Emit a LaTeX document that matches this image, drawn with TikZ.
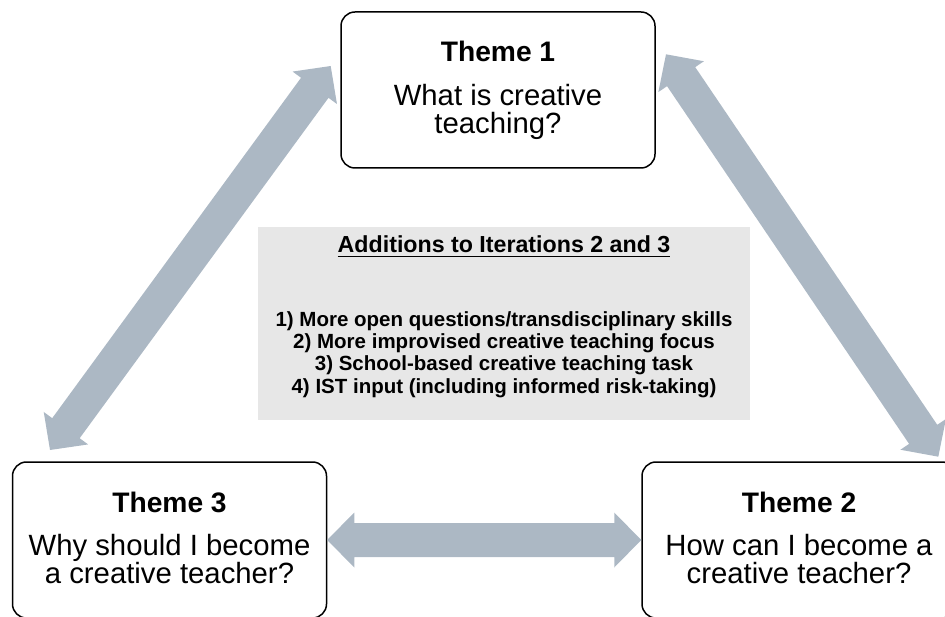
\documentclass[tikz,border=0pt]{standalone}
\usepackage{fontspec}
\setmainfont{Liberation Sans}
\usetikzlibrary{calc}
\definecolor{arrowc}{RGB}{172,184,196}
\definecolor{panelc}{RGB}{231,231,231}
\newcommand{\bidiarrow}[2]{%
  \coordinate (ba) at ($(#1)!27pt!(#2)$);
  \coordinate (bb) at ($(#2)!27pt!(#1)$);
  \fill[arrowc] (#1) -- ($(ba)!27.5pt!-90:(#1)$) -- ($(ba)!17pt!-90:(#1)$)
    -- ($(bb)!17pt!90:(#2)$) -- ($(bb)!27.5pt!90:(#2)$) -- (#2)
    -- ($(bb)!27.5pt!-90:(#2)$) -- ($(bb)!17pt!-90:(#2)$)
    -- ($(ba)!17pt!90:(#1)$) -- ($(ba)!27.5pt!90:(#1)$) -- cycle;
}
\tikzset{
  themebox/.style={draw=black, line width=1.5pt, rounded corners=14pt, fill=white,
    minimum width=314pt, minimum height=156pt, inner sep=0pt},
  hdr/.style={anchor=base, inner sep=0pt, font=\fontsize{28.2}{30}\selectfont\bfseries},
  body/.style={anchor=base, inner sep=0pt, font=\fontsize{29.3}{30}\selectfont},
  panel/.style={fill=panelc, draw=none, minimum width=492pt, minimum height=193pt, inner sep=0pt},
  ttlstyle/.style={anchor=base, inner sep=0pt, font=\fontsize{23.2}{25}\selectfont\bfseries},
  item/.style={anchor=base, inner sep=0pt, font=\fontsize{20.5}{22}\selectfont\bfseries}
}
\begin{document}
\begin{tikzpicture}[x=1pt,y=-1pt]
\useasboundingbox (0,0) rectangle (945,617);
\clip (0,0) rectangle (945,617);

% boxes
\node[themebox] (t1) at (498,90) {};
\node[themebox] (t3) at (169.5,540) {};
\node[themebox] (t2) at (799,540) {};

% theme texts
\node[hdr]  (t1h) at ($(t1.center)+(0,-28)$) {Theme 1};
\node[body] (t1a) at ($(t1.center)+(0,15.5)$) {What is creative};
\node[body] (t1b) at ($(t1.center)+(0,43.5)$) {teaching?};

\node[hdr]  (t3h) at ($(t3.center)+(0,-28)$) {Theme 3};
\node[body] (t3a) at ($(t3.center)+(0,15.5)$) {Why should I become};
\node[body] (t3b) at ($(t3.center)+(0,43)$) {a creative teacher?};

\node[hdr]  (t2h) at ($(t2.center)+(0,-28)$) {Theme 2};
\node[body] (t2a) at ($(t2.center)+(0,15.5)$) {How can I become a};
\node[body] (t2b) at ($(t2.center)+(0,43)$) {creative teacher?};

% central panel
\node[panel] (gb) at (504,323.5) {};
\node[ttlstyle] (ttl) at (504,253) {Additions to Iterations 2 and 3};
\draw[line width=1.6pt] ([yshift=-3.5pt]ttl.base west) -- ([yshift=-3.5pt]ttl.base east);
\node[item] (i1) at (504,327) {1) More open questions/transdisciplinary skills};
\node[item] (i2) at (504,349) {2) More improvised creative teaching focus};
\node[item] (i3) at (504,371) {3) School-based creative teaching task};
\node[item] (i4) at (504,393) {4) IST input (including informed risk-taking)};

% arrow end points
\coordinate (l1) at (50,450);
\coordinate (l2) at (330.7,66);
\coordinate (r1) at (666,54.3);
\coordinate (r2) at (938.3,456.7);

\bidiarrow{l1}{l2}
\bidiarrow{r1}{r2}
\bidiarrow{t3.east}{t2.west}
\end{tikzpicture}
\end{document}
